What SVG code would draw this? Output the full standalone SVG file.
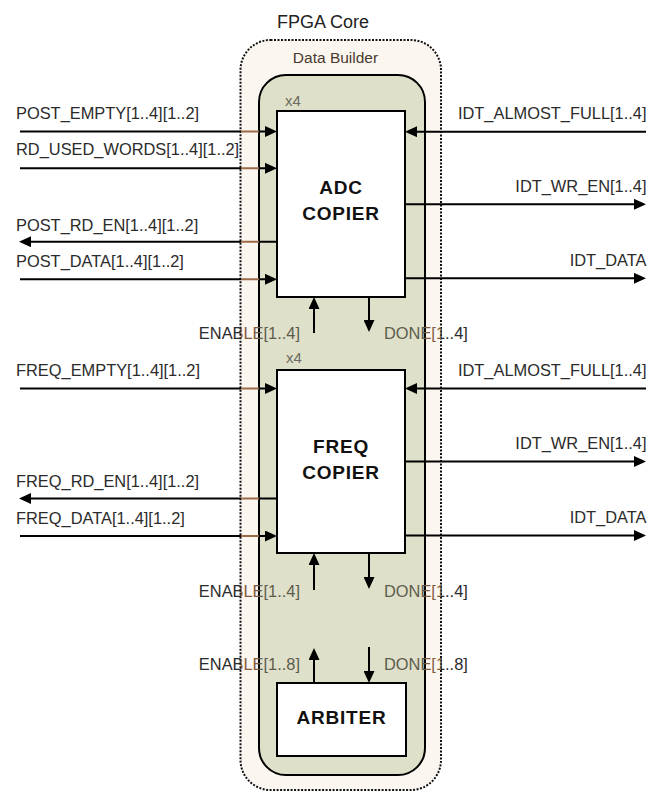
<svg xmlns="http://www.w3.org/2000/svg" width="651" height="791" viewBox="0 0 651 791">
<defs>
<style>
.lbl{font-family:"Liberation Sans",Arial,sans-serif;font-size:16.4px;fill:#2b2b2b}
.mix{fill:url(#txtGrad)}
.ttl{font-family:"Liberation Sans",Arial,sans-serif;font-size:18px;fill:#222}
.sub{font-family:"Liberation Sans",Arial,sans-serif;font-size:15.5px;fill:#4a3a2e}
.x4{font-family:"Liberation Sans",Arial,sans-serif;font-size:15px;fill:#6a6a60}
.blk{font-family:"Liberation Sans",Arial,sans-serif;font-size:19px;font-weight:bold;fill:#111;letter-spacing:0.8px;text-anchor:middle}
.box{fill:#fff;stroke:#000;stroke-width:2}
.wire{stroke:#000;stroke-width:2;fill:none;marker-end:url(#ah)}
.wl{stroke:url(#lineGrad)}
</style>
<marker id="ah" markerUnits="userSpaceOnUse" markerWidth="12" markerHeight="11" refX="9" refY="5.5" orient="auto">
<path d="M0,0 L12,5.5 L0,11 z" fill="#000"/>
</marker>
<linearGradient id="txtGrad" gradientUnits="userSpaceOnUse" x1="0" y1="0" x2="651" y2="0">
<stop offset="0" stop-color="#2b2b2b"/>
<stop offset="0.3697" stop-color="#2b2b2b"/>
<stop offset="0.3697" stop-color="#7f5a3c"/>
<stop offset="0.3978" stop-color="#7f5a3c"/>
<stop offset="0.3978" stop-color="#5c5c4c"/>
<stop offset="0.6528" stop-color="#5c5c4c"/>
<stop offset="0.6528" stop-color="#7f5a3c"/>
<stop offset="0.6774" stop-color="#7f5a3c"/>
<stop offset="0.6774" stop-color="#2b2b2b"/>
<stop offset="1" stop-color="#2b2b2b"/>
</linearGradient>
<linearGradient id="lineGrad" gradientUnits="userSpaceOnUse" x1="0" y1="0" x2="651" y2="0">
<stop offset="0" stop-color="#000"/>
<stop offset="0.3697" stop-color="#000"/>
<stop offset="0.3697" stop-color="#9a6a48"/>
<stop offset="0.3978" stop-color="#9a6a48"/>
<stop offset="0.3978" stop-color="#000"/>
<stop offset="1" stop-color="#000"/>
</linearGradient>
</defs>
<rect width="651" height="791" fill="#fff"/>

<g id="fpga-core">
<rect x="240.5" y="40" width="200.5" height="750" rx="30" fill="#fcf6f0" stroke="#111" stroke-width="2" stroke-dasharray="2 1.5"/>
<text class="ttl" x="277" y="28">FPGA Core</text>
</g>

<g id="data-builder">
<rect x="259" y="75" width="166" height="700" rx="27" fill="#dfe0c9" stroke="#000" stroke-width="2"/>
<text class="sub" x="335.5" y="63" text-anchor="middle">Data Builder</text>
</g>

<g id="adc-copier">
<text class="x4" x="285" y="106">x4</text>
<rect class="box" x="277" y="111" width="128" height="186"/>
<text class="blk" x="341" y="194">ADC</text>
<text class="blk" x="341" y="220">COPIER</text>
</g>

<g id="freq-copier">
<text class="x4" x="286" y="363">x4</text>
<rect class="box" x="277" y="370" width="128" height="183"/>
<text class="blk" x="341" y="453">FREQ</text>
<text class="blk" x="341" y="479">COPIER</text>
</g>

<g id="arbiter">
<rect class="box" x="277" y="683" width="129" height="73"/>
<text class="blk" x="341.5" y="724">ARBITER</text>
</g>

<g id="connectors">
<line class="wire wl" x1="20" y1="131.5" x2="274" y2="131.5"/>
<line class="wire wl" x1="20" y1="168.3" x2="274" y2="168.3"/>
<line class="wire wl" x1="277" y1="241.7" x2="22" y2="241.7"/>
<line class="wire wl" x1="20" y1="279.3" x2="274" y2="279.3"/>
<line class="wire" x1="646" y1="131.7" x2="408" y2="131.7"/>
<line class="wire" x1="405" y1="204.3" x2="643" y2="204.3"/>
<line class="wire" x1="405" y1="278.3" x2="643" y2="278.3"/>

<line class="wire wl" x1="20" y1="388.5" x2="274" y2="388.5"/>
<line class="wire wl" x1="277" y1="498.5" x2="22" y2="498.5"/>
<line class="wire wl" x1="20" y1="536" x2="274" y2="536"/>
<line class="wire" x1="646" y1="388.5" x2="408" y2="388.5"/>
<line class="wire" x1="405" y1="461.5" x2="643" y2="461.5"/>
<line class="wire" x1="405" y1="535.5" x2="643" y2="535.5"/>

<line class="wire" x1="314" y1="333" x2="314" y2="300"/>
<line class="wire" x1="369" y1="297" x2="369" y2="329"/>
<line class="wire" x1="314" y1="590" x2="314" y2="556"/>
<line class="wire" x1="369" y1="553" x2="369" y2="586"/>
<line class="wire" x1="314" y1="683" x2="314" y2="651"/>
<line class="wire" x1="369" y1="647" x2="369" y2="680"/>

<text class="lbl" x="16" y="119.3">POST_EMPTY[1..4][1..2]</text>
<text class="lbl" x="16" y="155">RD_USED_WORDS[1..4][1..2]</text>
<text class="lbl" x="16" y="230.7">POST_RD_EN[1..4][1..2]</text>
<text class="lbl" x="16" y="266.7">POST_DATA[1..4][1..2]</text>
<text class="lbl" x="646.5" y="119.3" text-anchor="end">IDT_ALMOST_FULL[1..4]</text>
<text class="lbl" x="646.5" y="191.7" text-anchor="end">IDT_WR_EN[1..4]</text>
<text class="lbl" x="646.5" y="265.7" text-anchor="end">IDT_DATA</text>

<text class="lbl" x="16" y="376.3">FREQ_EMPTY[1..4][1..2]</text>
<text class="lbl" x="16" y="487">FREQ_RD_EN[1..4][1..2]</text>
<text class="lbl" x="16" y="523.5">FREQ_DATA[1..4][1..2]</text>
<text class="lbl" x="646.5" y="376.3" text-anchor="end">IDT_ALMOST_FULL[1..4]</text>
<text class="lbl" x="646.5" y="448.7" text-anchor="end">IDT_WR_EN[1..4]</text>
<text class="lbl" x="646.5" y="522.7" text-anchor="end">IDT_DATA</text>

<text class="lbl mix" x="300" y="339.3" text-anchor="end">ENABLE[1..4]</text>
<text class="lbl mix" x="384" y="339.3">DONE[1..4]</text>
<text class="lbl mix" x="300" y="597.3" text-anchor="end">ENABLE[1..4]</text>
<text class="lbl mix" x="384" y="597.3">DONE[1..4]</text>
<text class="lbl mix" x="300" y="670" text-anchor="end">ENABLE[1..8]</text>
<text class="lbl mix" x="384" y="670">DONE[1..8]</text>
</g>
</svg>
